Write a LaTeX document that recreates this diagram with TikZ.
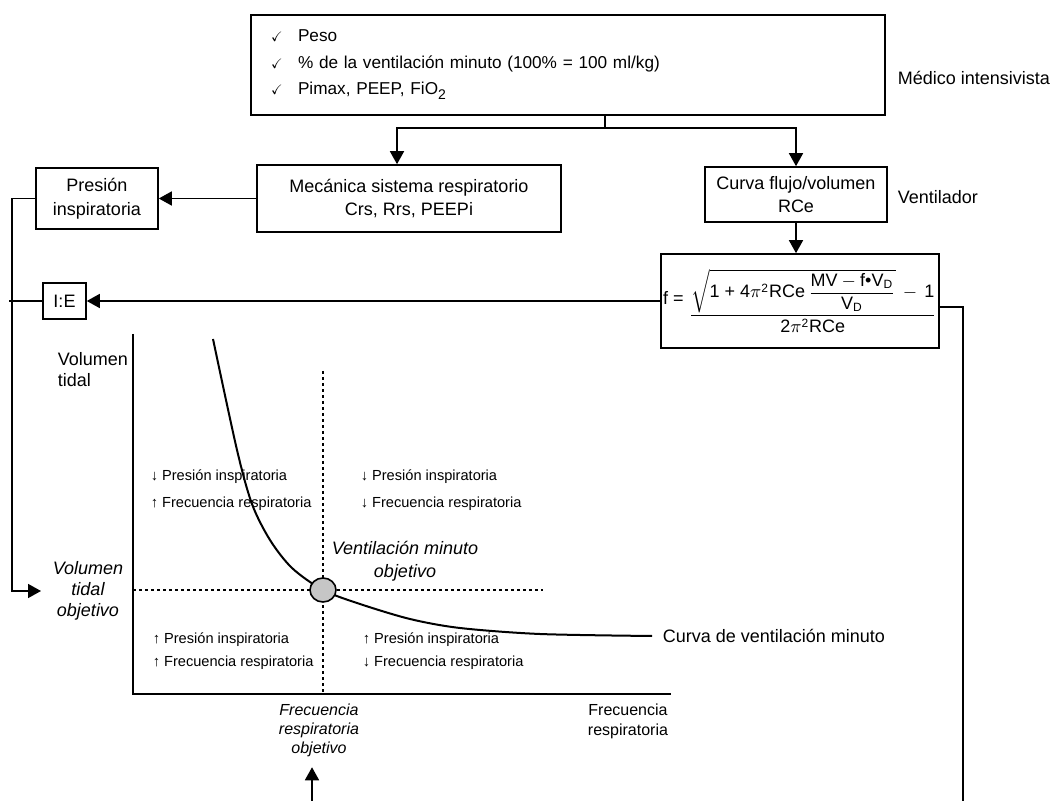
\documentclass[tikz,border=0pt]{standalone}
\usepackage{amsmath}
\usepackage{amssymb}
\usepackage{fontspec}
\setmainfont{Liberation Sans}
\usetikzlibrary{arrows.meta}
\newcommand{\chk}{\makebox[13.5pt][l]{\scalebox{0.8}{$\checkmark$}}}
\newcommand{\vd}{V\textsubscript{D}}

\begin{document}
\begin{tikzpicture}[x=0.5pt,y=-0.5pt,line width=0.8pt,
    box/.style={draw,align=center,inner sep=0pt,font=\fontsize{9}{11.75}\selectfont},
    lbl/.style={align=center,inner sep=0pt,font=\fontsize{9}{10.5}\selectfont},
    ital/.style={align=center,inner sep=0pt,font=\fontsize{9}{10.5}\selectfont\itshape},
    axlbl/.style={align=center,inner sep=0pt,font=\fontsize{8}{9.5}\selectfont},
    quad/.style={anchor=west,inner sep=0pt,font=\fontsize{7.3}{9}\selectfont},
    arr/.style={-{Triangle[length=6.5pt,width=7pt]}},
    dots/.style={line width=0.6pt,dash pattern=on 1.5pt off 1.5pt}]
\useasboundingbox (0,0) rectangle (1054,801);

% boxes
\node[box,align=left,text width=297pt,inner xsep=10pt,minimum height=50pt,
      font=\fontsize{8.6}{13.25}\selectfont] (top) at (568,65)
      {\chk Peso\\ \chk \% de la ventilación minuto (100\% = 100 ml/kg)\\ \chk Pimax, PEEP, FiO\raisebox{-2.5pt}{\fontsize{7}{7}\selectfont 2}};
\node[box,minimum width=152pt,minimum height=33.5pt] (mec) at (409,198.5) {Mecánica sistema respiratorio\\Crs, Rrs, PEEPi};
\node[box,minimum width=61pt,minimum height=30.5pt] (pres) at (97,198.5) {Presión\\inspiratoria};
\node[box,minimum width=91pt,minimum height=27.5pt] (curva) at (796,194.5) {Curva flujo/volumen\\RCe};
\node[box,minimum width=139pt,minimum height=47pt] (form) at (800,301)
      {\raisebox{8pt}{f =}\ $\dfrac{\sqrt{\text{1 + 4}\pi^{\text{2}}\text{RCe}\,\dfrac{\text{MV} - \text{f\textbullet\vd}}{\text{\vd}}}\,-\,\text{1}}{\text{2}\pi^{\text{2}}\text{RCe}}$};
\node[box,minimum width=21.5pt,minimum height=18pt] (ie) at (64.5,301) {I:E};
\node[lbl,anchor=west] (medico) at (897,78) {Médico intensivista};
\node[lbl,anchor=west] (vent) at (897,197) {Ventilador};

% graph
\draw (133,334) -- (133,694) -- (671,694);
\draw[dots] (323,371) -- (323,694);
\draw[dots] (133,590) -- (543,590);
\draw[line width=1pt] plot[smooth] coordinates {(213,339) (237,450) (252,504) (270,540) (292,568) (323,590)
      (360,604) (410,619) (460,628) (540,634) (652,636)};
\draw[fill=gray!45] (323,590) ellipse [x radius=6.5pt,y radius=6pt];

\node[lbl,align=left,anchor=west] (vt) at (57,370) {Volumen\\tidal};
\node[ital] (vto) at (88,591) {Volumen\\tidal\\objetivo};
\node[ital,font=\fontsize{9}{11.5}\selectfont\itshape] (vmo) at (405,561) {Ventilación minuto\\objetivo};
\node[axlbl,font=\fontsize{8}{9.5}\selectfont\itshape] (fro) at (319,730) {Frecuencia\\respiratoria\\objetivo};
\node[axlbl,font=\fontsize{8}{10}\selectfont] (fr) at (628,721) {Frecuencia\\respiratoria};
\node[lbl,anchor=west] (cvm) at (662,636) {Curva de ventilación minuto};

\node[quad] (q1a) at (150,477) {↓ Presión inspiratoria};
\node[quad] (q1b) at (150,504) {↑ Frecuencia respiratoria};
\node[quad] (q2a) at (360,477) {↓ Presión inspiratoria};
\node[quad] (q2b) at (360,504) {↓ Frecuencia respiratoria};
\node[quad] (q3a) at (152,640) {↑ Presión inspiratoria};
\node[quad] (q3b) at (152,663) {↑ Frecuencia respiratoria};
\node[quad] (q4a) at (362,640) {↑ Presión inspiratoria};
\node[quad] (q4b) at (362,663) {↓ Frecuencia respiratoria};

% connectors
\coordinate (split) at (605,128);
\draw (top.south -| split) -- (split);
\draw[arr] (split) -| ([xshift=-6pt]mec.north);
\draw[arr] (split) -| (curva.north);
\draw[arr] (mec) -- (pres);
\draw[arr] (curva.south) -- (curva.south |- form.north);
\draw[arr] (form) -- (ie);
\draw (ie.west) -- ++(-16.5pt,0);
\draw[arr,shorten >=5.5pt] (pres.west) -- ++(-11.5pt,0) |- (vto.west);
\coordinate (bot1) at (963,801);
\draw ([yshift=-3pt]form.east) -| (bot1);
\coordinate (bot2) at (312,801);
\draw[arr,shorten >=5pt] (bot2) -- (bot2 |- fro.south);
\end{tikzpicture}
\end{document}
